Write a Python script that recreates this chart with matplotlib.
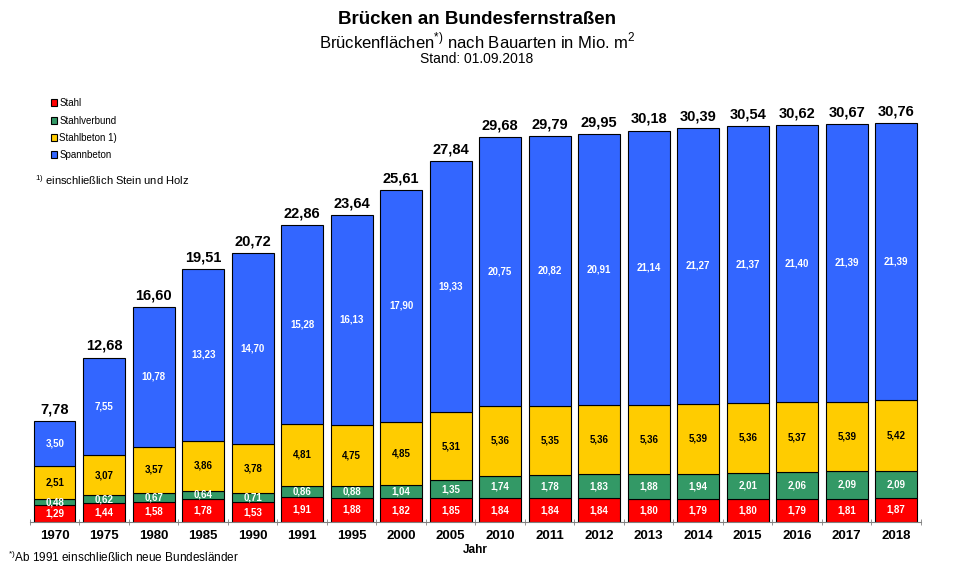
import matplotlib
matplotlib.use("Agg")
import matplotlib.pyplot as plt
import numpy as np

plt.rcParams['font.family'] = ['Liberation Sans', 'DejaVu Sans']
plt.rcParams['mathtext.fontset'] = 'custom'
plt.rcParams['mathtext.rm'] = 'Liberation Sans'

# Data (Mio. m2)
years = ["1970", "1975", "1980", "1985", "1990", "1991", "1995", "2000", "2005",
         "2010", "2011", "2012", "2013", "2014", "2015", "2016", "2017", "2018"]
stahl = [1.29, 1.44, 1.58, 1.78, 1.53, 1.91, 1.88, 1.82, 1.85,
         1.84, 1.84, 1.84, 1.80, 1.79, 1.80, 1.79, 1.81, 1.87]
stahlverbund = [0.48, 0.62, 0.67, 0.64, 0.71, 0.86, 0.88, 1.04, 1.35,
                1.74, 1.78, 1.83, 1.88, 1.94, 2.01, 2.06, 2.09, 2.09]
stahlbeton = [2.51, 3.07, 3.57, 3.86, 3.78, 4.81, 4.75, 4.85, 5.31,
              5.36, 5.35, 5.36, 5.36, 5.39, 5.36, 5.37, 5.39, 5.42]
spannbeton = [3.50, 7.55, 10.78, 13.23, 14.70, 15.28, 16.13, 17.90, 19.33,
              20.75, 20.82, 20.91, 21.14, 21.27, 21.37, 21.40, 21.39, 21.39]
totals = [7.78, 12.68, 16.60, 19.51, 20.72, 22.86, 23.64, 25.61, 27.84,
          29.68, 29.79, 29.95, 30.18, 30.39, 30.54, 30.62, 30.67, 30.76]

series = [
    ("Stahl", stahl, "#FF0000", "white"),
    ("Stahlverbund", stahlverbund, "#339966", "white"),
    ("Stahlbeton 1)", stahlbeton, "#FFCC00", "black"),
    ("Spannbeton", spannbeton, "#3366FF", "white"),
]

def fmt(v):
    return f"{v:.2f}".replace(".", ",")

fig = plt.figure(figsize=(9.54, 5.72), dpi=100)
ax = fig.add_axes([0.0314, 0.0874, 0.934, 0.7937])

x = np.arange(len(years))
bottom = np.zeros(len(years))
handles = []
for name, vals, color, tcolor in series:
    vals = np.array(vals)
    bars = ax.bar(x, vals, 0.84, bottom=bottom, color=color, edgecolor="black",
                  linewidth=0.8, label=name)
    handles.append(bars)
    for xi, b, v in zip(x, bottom, vals):
        ax.text(xi, b + v / 2, fmt(v), ha="center", va="center",
                fontsize=7, fontweight="bold", color=tcolor)
    bottom += vals

for xi, t, top in zip(x, totals, bottom):
    ax.text(xi, top + 0.35, fmt(t), ha="center", va="bottom",
            fontsize=10.5, fontweight="bold", color="black")

ax.set_xlim(-0.5, len(years) - 0.5)
ax.set_ylim(0, 35)
ax.set_yticks([])
for s in ["top", "right", "left"]:
    ax.spines[s].set_visible(False)
ax.spines["bottom"].set_color("#808080")
ax.set_xticks(x)
ax.set_xticklabels(years, fontsize=9.5, fontweight="bold")
ax.set_xticks(np.arange(len(years) + 1) - 0.5, minor=True)
ax.tick_params(axis="x", which="major", length=0, pad=6)
ax.tick_params(axis="x", which="minor", length=4, color="#808080", direction="inout")
ax.set_xlabel("Jahr", fontsize=8.5, fontweight="bold", labelpad=1)

fig.legend(handles=handles, loc="upper left", bbox_to_anchor=(0.049, 0.835),
           frameon=False, fontsize=7, handlelength=0.7, handleheight=0.7,
           handletextpad=0.2, labelspacing=0.75, borderaxespad=0)

fig.text(0.037, 0.685, r"$^{1)}$ einschließlich Stein und Holz", fontsize=8, va="center")
fig.text(0.008, 0.025, r"$^{*)}$Ab 1991 einschließlich neue Bundesländer", fontsize=8.5, va="center")

fig.text(0.50, 0.966, "Brücken an Bundesfernstraßen", ha="center", va="center",
         fontsize=13.5, fontweight="bold")
fig.text(0.50, 0.929, r"Brückenflächen$^{*)}$ nach Bauarten in Mio. m$^2$", ha="center",
         va="center", fontsize=12)
fig.text(0.50, 0.896, "Stand: 01.09.2018", ha="center", va="center", fontsize=10)

fig.savefig("out.png", dpi=100)
